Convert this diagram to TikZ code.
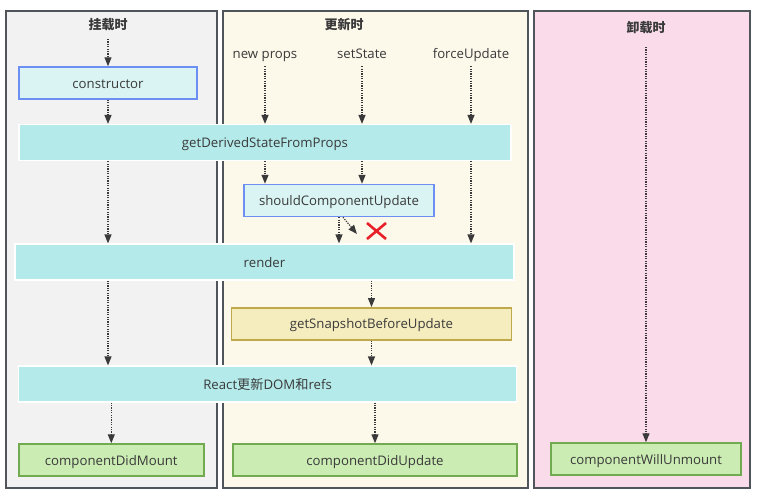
\documentclass[tikz,border=0pt]{standalone}
\usepackage{fontspec}
\setmainfont{Open Sans}
\newfontfamily\cjk{Noto Sans CJK SC}
\usetikzlibrary{arrows.meta}

\definecolor{ink}{HTML}{3A3A3A}
\definecolor{frame}{HTML}{50555B}
\definecolor{mountbg}{HTML}{F2F2F2}
\definecolor{updatebg}{HTML}{FCF8EA}
\definecolor{unmountbg}{HTML}{F9DBEA}
\definecolor{barfill}{HTML}{B4EAEA}
\definecolor{bluefill}{HTML}{DAF4F4}
\definecolor{blueline}{HTML}{6D8EF2}
\definecolor{yelfill}{HTML}{F6EDBE}
\definecolor{yelline}{HTML}{C0A94D}
\definecolor{grnfill}{HTML}{CBECB3}
\definecolor{grnline}{HTML}{72AA52}
\definecolor{cross}{HTML}{E8202A}

\tikzset{
  panel/.style={draw=frame, line width=2pt},
  phase/.style={font=\cjk\bfseries\fontsize{13}{15}\selectfont, text=ink, inner sep=0pt},
  label text/.style={font=\fontsize{13.2}{15}\selectfont, text=ink, inner sep=0pt,
    text height=11pt, text depth=1pt},
  trigger/.style={label text},
  box/.style={label text, minimum height=#1},
  bar/.style={box=36pt, fill=barfill, draw=white, line width=1.2pt},
  hook/.style={box=32pt, fill=bluefill, draw=blueline, line width=1.5pt},
  snap/.style={box=32pt, fill=yelfill, draw=yelline, line width=1.5pt},
  done/.style={box=32pt, fill=grnfill, draw=grnline, line width=1.5pt},
  flow/.style={draw=ink, line width=1.2pt, dash pattern=on 1.2pt off 1.2pt,
    -{Triangle[length=9pt,width=7pt,fill=ink]}},
}

\begin{document}
\begin{tikzpicture}[x=1pt,y=-1pt]
  \useasboundingbox[fill=white] (0,0) rectangle (760,501);

  % three phase columns
  \draw[panel, fill=mountbg]   (6,11)  rectangle (217,488);
  \draw[panel, fill=updatebg]  (223,11) rectangle (528,488);
  \draw[panel, fill=unmountbg] (534,11) rectangle (750,488);

  \node[phase] (mountT) at (108,25) {挂载时};
  \node[phase] (updT)   at (344,25) {更新时};
  \node[phase] (unT)    at (646,28) {卸载时};

  \node[trigger] (np) at (265,53) {new props};
  \node[trigger] (ss) at (362,53) {setState};
  \node[trigger] (fu) at (471,53) {forceUpdate};

  % lifecycle methods
  \node[hook, minimum width=178pt] (con) at (108,83) {constructor};
  \node[bar, minimum width=492pt]  (gd)  at (265,142.5) {getDerivedStateFromProps};
  \node[hook, minimum width=190pt] (scu) at (339,200.5) {shouldComponentUpdate};
  \node[bar, minimum width=499pt]  (rd)  at (264.5,262) {render};
  \node[snap, minimum width=280pt] (gs)  at (371.5,323.8) {getSnapshotBeforeUpdate};
  \node[bar, minimum width=498pt]  (rc)  at (267.6,384) {React{\cjk 更新}DOM{\cjk 和}refs};
  \node[done, minimum width=185pt] (cdm) at (111.3,460) {componentDidMount};
  \node[done, minimum width=284pt] (cdu) at (375,460) {componentDidUpdate};
  \node[done, minimum width=190pt] (cwu) at (646,459) {componentWillUnmount};

  \coordinate (mstart) at (108,39);
  \coordinate (ustart) at (646,47);
  \coordinate (skip)   at (357,234);

  % mounting
  \draw[flow] (mstart) -- (con.north);
  \draw[flow] (con.south) -- (con.south |- gd.north);
  \draw[flow] (gd.south -| con) -- (rd.north -| con);
  \draw[flow] (rd.south -| con) -- (rc.north -| con);
  \draw[flow] (rc.south -| cdm) -- (cdm.north);

  % updating
  \draw[flow, shorten <=7pt] (np.south) -- (np.south |- gd.north);
  \draw[flow, shorten <=7pt] (ss.south) -- (ss.south |- gd.north);
  \draw[flow, shorten <=7pt] (fu.south) -- (fu.south |- gd.north);
  \draw[flow] (gd.south -| np) -- (scu.north -| np);
  \draw[flow] (gd.south -| ss) -- (scu.north -| ss);
  \draw[flow] (gd.south -| fu) -- (rd.north -| fu);
  \draw[flow] (scu.south) -- (scu.south |- rd.north);
  \draw[flow] ([xshift=4pt]scu.south) -- (skip);
  \draw[cross, line width=2.6pt] (367,223) -- (386,239) (367,239) -- (386,223);
  \draw[flow] (rd.south -| gs) -- (gs.north);
  \draw[flow] (gs.south) -- (gs.south |- rc.north);
  \draw[flow] (rc.south -| cdu) -- (cdu.north);

  % unmounting
  \draw[flow] (ustart) -- (cwu.north);
\end{tikzpicture}
\end{document}
